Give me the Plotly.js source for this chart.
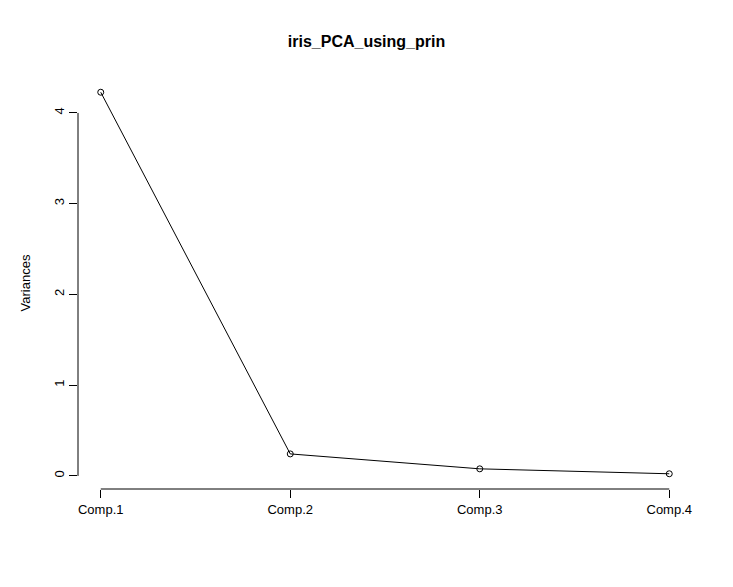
<!DOCTYPE html>
<html><head><script src="https://cdn.plot.ly/plotly-3.0.1.min.js"></script></head>
<body style="margin:0"><div id="c" style="width:733px;height:587px"></div>
<script>
var comps=["Comp.1","Comp.2","Comp.3","Comp.4"];
var variances=[4.2282,0.2427,0.0782,0.0238];
var xi=[1,2,3,4];
var f={family:"Liberation Sans, Arial",size:13,color:"#000"};
Plotly.newPlot("c",[{x:xi,y:variances,mode:"lines+markers",line:{color:"#000",width:1},
marker:{symbol:"circle-open",size:6,color:"#000",line:{width:1}},hoverinfo:"none"}],
{width:733,height:587,margin:{l:78,r:41,t:77,b:98},showlegend:false,
paper_bgcolor:"#fff",plot_bgcolor:"#fff",font:f,
title:{text:"<b>iris_PCA_using_prin</b>",x:0.5,xanchor:"center",y:0.93,yanchor:"middle",font:{family:"Liberation Sans, Arial",size:16}},
xaxis:{range:[0.88,4.12],tickvals:xi,ticktext:comps,ticks:"outside",ticklen:8,tickcolor:"#000",showgrid:false,zeroline:false,showline:false,tickfont:f},
yaxis:{range:[-0.144,4.396],tickvals:[0,1,2,3,4],ticks:"outside",ticklen:8,tickcolor:"#000",tickangle:-90,showgrid:false,zeroline:false,showline:false,tickfont:f,
title:{text:"Variances",font:f,standoff:18}},
shapes:[{type:"line",xref:"x",yref:"paper",x0:1,x1:4,y0:0,y1:0,line:{color:"#000",width:1}},
{type:"line",xref:"paper",yref:"y",x0:0,x1:0,y0:0,y1:4,line:{color:"#000",width:1}}]
},{staticPlot:true});
</script></body></html>
